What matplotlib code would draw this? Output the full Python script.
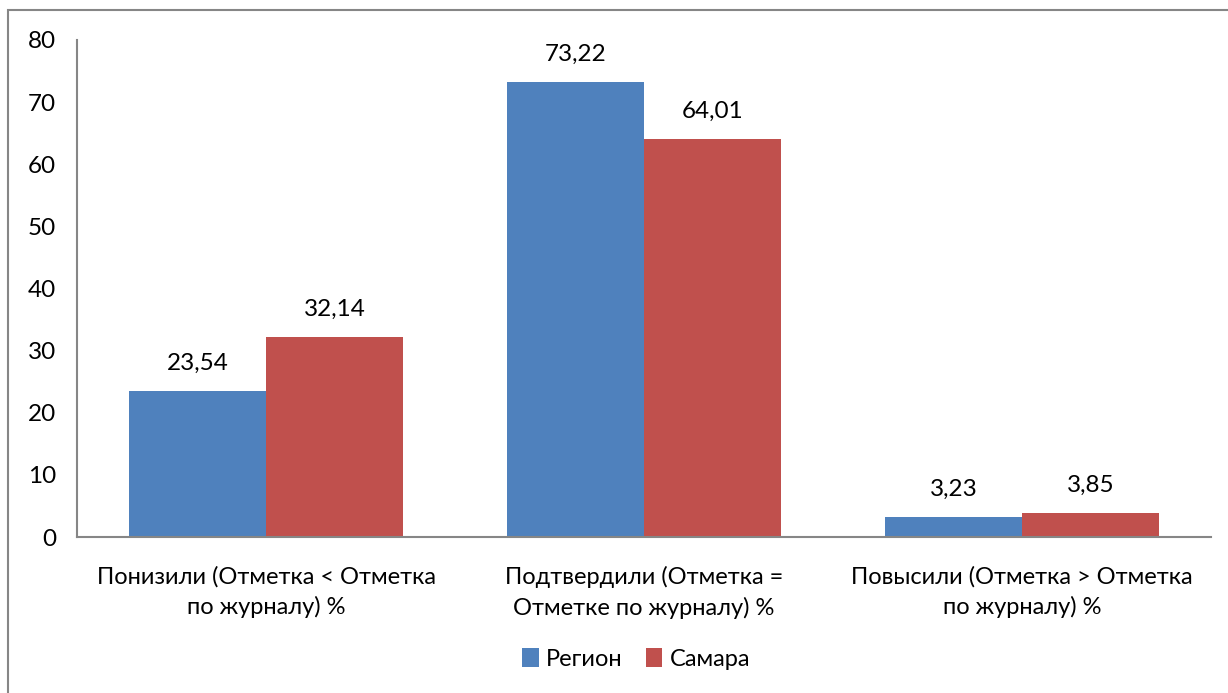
import numpy as np
import matplotlib
matplotlib.use("Agg")
import matplotlib.pyplot as plt
from matplotlib.patches import Rectangle

categories = ["Понизили (Отметка < Отметка\nпо журналу) %",
              "Подтвердили (Отметка =\nОтметке по журналу) %",
              "Повысили (Отметка > Отметка\nпо журналу) %"]
region = [23.54, 73.22, 3.23]
samara = [32.14, 64.01, 3.85]
series_names = ["Регион", "Самара"]
colors = ["#4F81BD", "#C0504D"]

plt.rcParams['font.family'] = ['Lato', 'DejaVu Sans']
fs = 17
fs_num = 17.5

fig = plt.figure(figsize=(12.28, 6.93), dpi=100)
ax = fig.add_axes([0.0627, 0.2251, 0.9235, 0.7172])

x = np.arange(len(categories))
w = 0.3624
b1 = ax.bar(x - w / 2, region, w, color=colors[0], label=series_names[0])
b2 = ax.bar(x + w / 2, samara, w, color=colors[1], label=series_names[1])

for bars, vals in ((b1, region), (b2, samara)):
    for r, v in zip(bars, vals):
        ax.text(r.get_x() + r.get_width() / 2, v + 2.8, ("%.2f" % v).replace(".", ","),
                ha="center", va="bottom", fontsize=fs_num)

ax.set_xlim(-0.5, 2.5)
ax.set_ylim(0, 80)
ax.set_yticks(range(0, 81, 10))
ax.set_xticks(x)
ax.set_xticklabels(categories, fontsize=fs, linespacing=1.45)
ax.tick_params(axis="y", length=0, labelsize=fs_num, pad=15)
ax.tick_params(axis="x", length=0, pad=21)
for s in ("top", "right"):
    ax.spines[s].set_visible(False)
for s in ("left", "bottom"):
    ax.spines[s].set_color("#868686")
    ax.spines[s].set_linewidth(1.5)

ax.legend(loc="center", bbox_to_anchor=(0.493, -0.245), ncol=2, frameon=False,
          fontsize=fs, handlelength=0.7, handleheight=0.9, handletextpad=0.3,
          columnspacing=1.0)

fig.patches.append(Rectangle((8 / 1228, -0.05), 1.2, (693 - 10) / 693 + 0.05,
                             transform=fig.transFigure, fill=False,
                             edgecolor="#868686", linewidth=1.5))

fig.savefig("out.png", dpi=100)
